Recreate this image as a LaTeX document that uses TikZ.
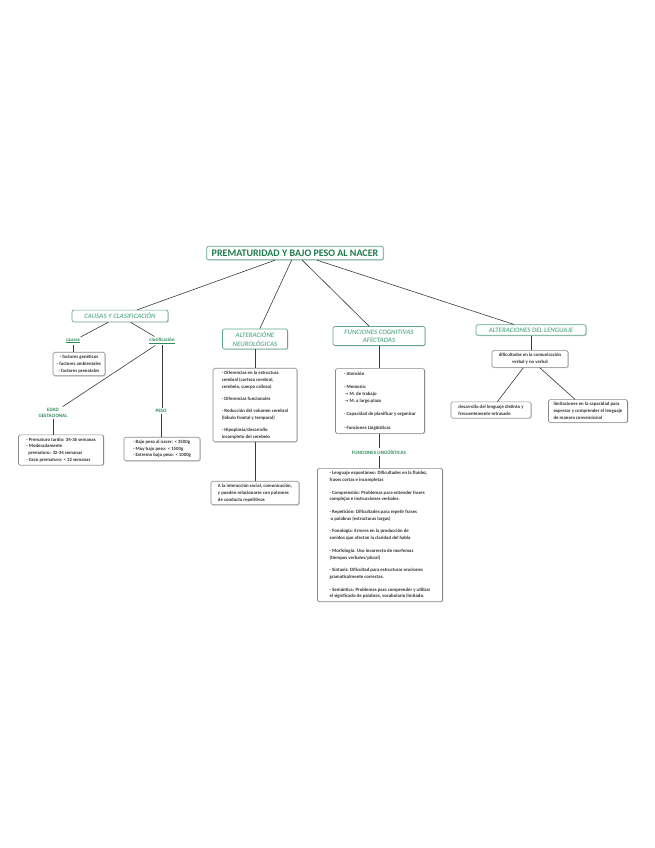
\documentclass[tikz,border=0pt]{standalone}
\usepackage{fontspec}
\setmainfont{Carlito}
\newfontfamily\dejavu{DejaVu Sans}
\usetikzlibrary{shadows}
\definecolor{titlegreen}{HTML}{1E7A4C}
\definecolor{catgreen}{HTML}{6DB596}
\definecolor{catborder}{HTML}{5DA888}
\definecolor{labgreen}{HTML}{2E8B5A}
\definecolor{boxgray}{HTML}{8A8A8A}
\definecolor{linegray}{HTML}{3A3A3A}
\tikzset{
  shad/.style={drop shadow={shadow xshift=0.8pt,shadow yshift=-0.8pt,fill=black!25,opacity=0.7}},
  titlebox/.style={draw=catborder,line width=0.7pt,fill=white,rounded corners=1.5pt,shad,
     font=\fontsize{10}{11}\selectfont\bfseries,text=titlegreen,inner xsep=5pt,inner ysep=3.5pt},
  catbox/.style={draw=catborder,line width=0.7pt,fill=white,rounded corners=2pt,shad,
     font=\fontsize{6.8}{8.4}\selectfont\bfseries\itshape,text=catgreen,inner xsep=5pt,inner ysep=3pt,align=center},
  lab/.style={font=\fontsize{5}{6.2}\selectfont\bfseries,text=labgreen,align=center,inner sep=1.5pt},
  infobox/.style={draw=boxgray,line width=0.6pt,fill=white,rounded corners=1.5pt,shad,
     font=\fontsize{4.8}{6.7}\selectfont\bfseries,text=black!80,inner xsep=3pt,inner ysep=3pt},
  conn/.style={draw=linegray,line width=0.6pt}
}
\newcommand{\ul}[1]{\underline{#1}}
\newcommand{\arr}{{\dejavu\fontsize{4}{6.7}\selectfont →}}
\begin{document}
\begin{tikzpicture}[x=1pt,y=-1pt]
\fill[white] (0,0) rectangle (655,848);
\useasboundingbox (0,0) rectangle (655,848);

% title
\node[titlebox] (title) at (295,253) {PREMATURIDAD Y BAJO PESO AL NACER};

% categories
\node[catbox,minimum width=96pt] (causas) at (120,316) {CAUSAS Y CLASIFICACIÓN};
\node[catbox,minimum width=65pt] (neuro) at (255,339) {ALTERACIÓNE\\NEUROLÓGICAS};
\node[catbox,minimum width=92pt] (cogn) at (379,336) {FUNCIONES COGNITIVAS\\AFECTADAS};
\node[catbox,minimum width=110pt] (leng) at (531,330) {ALTERACIONES DEL LENGUAJE};

% causas branch
\node[lab] (causaslab) at (73,341) {\ul{causas}};
\node[lab] (clasif) at (162,341) {\ul{clasificación}};
\node[infobox,align=center,minimum width=52pt] (factores) at (79,364)
  {- factores genéticos\\- factores ambientales\\- factores prenatales};
\node[lab] (edad) at (53,413) {EDAD\\GESTACIONAL};
\node[lab] (peso) at (161,411) {PESO};
\node[infobox,align=left,minimum width=85pt] (prem) at (61,450)
  {- Prematuro tardío: 34-36 semanas\\- Moderadamente\\\ \ prematuro: 32-34 semanas\\- Gran prematuro: < 32 semanas};
\node[infobox,align=left,minimum width=76pt] (pesobox) at (162,449)
  {- Bajo peso al nacer: < 2500g\\- Muy bajo peso: < 1500g\\- Extremo bajo peso: < 1000g};

% neuro branch
\node[infobox,align=left,minimum width=84pt] (neurobox) at (255,405)
  {- Diferencias en la estructura\\cerebral (corteza cerebral,\\cerebelo, cuerpo calloso)\\[5.5pt]
   - Diferencias funcionales\\[5.5pt]
   - Reducción del volumen cerebral\\(lóbulo frontal y temporal)\\[5.5pt]
   - Hipoplasia/desarrollo\\incompleto del cerebelo};
\node[infobox,align=left,minimum width=88pt] (inter) at (255,493)
  {A la interacción social, comunicación,\\y pueden relacionarse con patrones\\de conducta repetitivos};

% cognitive branch
\node[infobox,align=left,minimum width=89pt] (cognbox) at (380,401)
  {- Atención\\[7pt]
   - Memoria:\\\ \arr\ M. de trabajo\\\ \arr\ M. a largo plazo\\[7pt]
   - Capacidad de planificar y organizar\\[7pt]
   - Funciones Lingüísticas};
\node[lab] (ling) at (379,452) {FUNCIONES LINGÜÍSTICAS};
\node[infobox,align=left,minimum width=125pt] (lingbox) at (380,535)
  {- Lenguaje espontáneo: Dificultades en la fluidez,\\frases cortas e incompletas\\[6pt]
   - Comprensión: Problemas para entender frases\\complejas e instrucciones verbales.\\[6pt]
   - Repetición: Dificultades para repetir frases\\\ o palabras (estructuras largas)\\[6pt]
   - Fonología: Errores en la producción de\\sonidos que afectan la claridad del habla\\[6pt]
   - Morfología: Uso incorrecto de morfemas\\(tiempos verbales/plural)\\[6pt]
   - Sintaxis: Dificultad para estructurar oraciones\\gramaticalmente correctas.\\[6pt]
   - Semántica: Problemas para comprender y utilizar\\el significado de palabras, vocabulario limitado.};

% lenguaje branch
\node[infobox,align=center,minimum width=76pt] (dific) at (530,359)
  {dificultades en la comunicación\\verbal y no verbal};
\node[infobox,align=left,minimum width=80pt] (desar) at (491,410)
  {desarrollo del lenguaje distinto y\\frecuentemente retrasado};
\node[infobox,align=left,minimum width=79pt] (limit) at (588,411)
  {limitaciones en la capacidad para\\expresar y comprender el lenguaje\\de manera convencional};

% connectors
\draw[conn] (title) -- (causas);
\draw[conn] (title) -- (neuro);
\draw[conn] (title) -- (cogn);
\draw[conn] (title) -- (leng);
\draw[conn] (causas) -- (causaslab);
\draw[conn] (causas) -- (clasif);
\draw[conn] (causaslab) -- (causaslab|-factores.north);
\draw[conn] (clasif) -- (edad);
\draw[conn] (clasif) -- (clasif|-peso.north);
\draw[conn] (edad) -- (edad|-prem.north);
\draw[conn] (peso) -- (peso|-pesobox.north);
\draw[conn] (neuro) -- (neuro|-neurobox.north);
\draw[conn] (neurobox) -- (neurobox|-inter.north);
\draw[conn] (cogn) -- (cogn|-cognbox.north);
\draw[conn] (cognbox.south-|ling) -- (ling);
\draw[conn] (ling) -- (ling|-lingbox.north);
\draw[conn] (leng) -- (leng|-dific.north);
\draw[conn] (dific) -- (desar);
\draw[conn] (dific) -- (limit);
\end{tikzpicture}
\end{document}
